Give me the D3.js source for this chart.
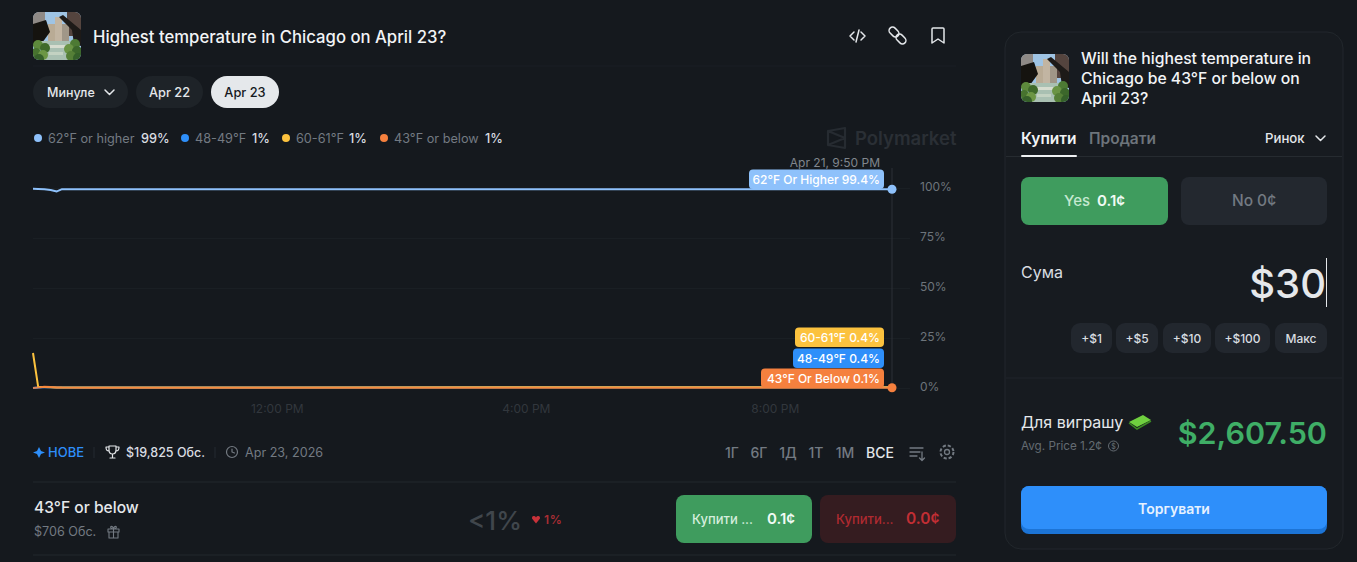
<!DOCTYPE html>
<html>
<head>
<meta charset="utf-8">
<script src="https://cdnjs.cloudflare.com/ajax/libs/d3/7.8.5/d3.min.js"></script>
<style>
html, body { margin: 0; padding: 0; background: #15191e; overflow: hidden; }
svg { display: block; }
text { font-family: Inter, "Noto Sans", sans-serif; }
</style>
</head>
<body>
<svg id="page" width="1357" height="562"></svg>
<script>
// chart data
var times = ["08:05", "08:10", "08:16", "08:22", "08:28", "08:33", "09:00", "12:00", "16:00", "20:00", "21:53"];
var higher62 = [99.6, 99.5, 99.4, 99.0, 98.3, 99.4, 99.4, 99.4, 99.4, 99.4, 99.4];
var range48 = [0, 0.3, 0.4, 0.4, 0.3, 0.2, 0.2, 0.2, 0.4, 0.4, 0.4];
var range60 = [17.5, 0.6, 0.5, 0.4, 0.3, 0.2, 0.2, 0.2, 0.4, 0.4, 0.4];
var below43 = [0, 0.2, 0.6, 0.5, 0.3, 0.2, 0.1, 0.1, 0.1, 0.1, 0.1];

var seriesNames = ["62°F or higher", "48-49°F", "60-61°F", "43°F or below"];
var tooltipNames = ["62°F Or Higher", "48-49°F", "60-61°F", "43°F Or Below"];
var seriesLast = [99.4, 0.4, 0.4, 0.1];
var legendPct = ["99%", "1%", "1%", "1%"];
var seriesColors = ["#8ec1fb", "#2e8ffa", "#fcc23e", "#f5803e"];
var allSeries = [higher62, range48, range60, below43];

var yTicks = [0, 25, 50, 75, 100];
var xTicks = ["12:00", "16:00", "20:00"];
var rangeLabels = ["1Г", "6Г", "1Д", "1Т", "1М", "ВСЕ"];
var chipLabels = ["+$1", "+$5", "+$10", "+$100", "Макс"];

var svg = d3.select("#page");
var parse = d3.timeParse("%H:%M");

function label(g, x, y, str, size, color, weight, anchor) {
  return g.append("text").attr("x", x).attr("y", y).text(str)
    .attr("font-size", size).attr("fill", color)
    .attr("font-weight", weight || 400).attr("text-anchor", anchor || "start");
}
function box(g, x0, y0, x1, y1, r, fill) {
  return g.append("rect").attr("x", x0).attr("y", y0).attr("width", x1 - x0).attr("height", y1 - y0)
    .attr("rx", r).attr("fill", fill);
}
function rule(g, x0, x1, y, color) {
  g.append("line").attr("x1", x0).attr("x2", x1).attr("y1", y).attr("y2", y).attr("stroke", color);
}
function icon(g, x, y, d, color, w) {
  g.append("path").attr("transform", "translate(" + x + "," + y + ")").attr("d", d)
    .attr("fill", "none").attr("stroke", color).attr("stroke-width", w || 1.5)
    .attr("stroke-linecap", "round").attr("stroke-linejoin", "round");
}

var defs = svg.append("defs");

// little picture of the Chicago river, drawn in a 48 box
function thumb(id, x, y) {
  defs.append("clipPath").attr("id", id).append("rect").attr("width", 48).attr("height", 48).attr("rx", 6);
  var g = svg.append("g").attr("transform", "translate(" + x + "," + y + ")").attr("clip-path", "url(#" + id + ")");
  box(g, 0, 0, 48, 48, 0, "#9fc4e4");
  box(g, 0, 0, 12, 22, 0, "#8f8a86");
  box(g, 34, 0, 48, 24, 0, "#54443e");
  box(g, 22, 5, 29, 30, 0, "#c2b5a2");
  box(g, 15, 12, 22, 30, 0, "#b9ab95");
  box(g, 29, 12, 36, 30, 0, "#a09788");
  g.append("path").attr("d", "M0 12L13 8L17 20L9 31L0 34Z").attr("fill", "#15130f");
  g.append("path").attr("d", "M26 5L30 3L48 18L48 34L41 32L39 18Z").attr("fill", "#1d1a18");
  box(g, 8, 29, 40, 48, 0, "#a9c0b2");
  box(g, 14, 33, 33, 36, 0, "#d6dccf");
  box(g, 16, 40, 30, 43, 0, "#c3d2c2");
  var leaves = [[5, 33, "#5e8a3c"], [12, 36, "#3f6a2a"], [3, 41, "#47732f"], [10, 43, "#6c9644"], [6, 47, "#36602a"],
    [42, 32, "#4d7a34"], [36, 37, "#6a9444"], [44, 39, "#3c672b"], [38, 44, "#557f37"], [45, 46, "#35602a"]];
  leaves.forEach(function (l) {
    g.append("circle").attr("cx", l[0]).attr("cy", l[1]).attr("r", 5).attr("fill", l[2]);
  });
}

// ---- header
thumb("th1", 33, 12);
label(svg, 93, 43, "Highest temperature in Chicago on April 23?", 16.7, "#f2f4f6", 500);
icon(svg, 850, 28, "M4 4L0 8L4 12M11 4L15 8L11 12M9 2L6 14", "#e4e7ea");
[[894, 32], [901, 39]].forEach(function (c) {
  svg.append("rect").attr("x", c[0] - 5.5).attr("y", c[1] - 3.5).attr("width", 11).attr("height", 7).attr("rx", 3.5)
    .attr("transform", "rotate(45 " + c[0] + " " + c[1] + ")")
    .attr("fill", "none").attr("stroke", "#e4e7ea").attr("stroke-width", 1.5);
});
icon(svg, 932, 28, "M0 1Q0 0 1 0L11 0Q12 0 12 1L12 15L6 11L0 15Z", "#e4e7ea");
rule(svg, 33, 956, 66, "#1a1f24");

// ---- pills
box(svg, 33, 76, 128, 108, 16, "#1e2328");
label(svg, 47, 97, "Минуле", 12.5, "#e4e7ea", 500);
icon(svg, 105, 90, "M0 0L4.5 4.5L9 0", "#e4e7ea");
box(svg, 136, 76, 203, 108, 16, "#1e2328");
label(svg, 169.5, 97, "Apr 22", 12.8, "#e4e7ea", 500, "middle");
box(svg, 211, 76, 279, 108, 16, "#e5e8eb");
label(svg, 245, 97, "Apr 23", 12.8, "#15191e", 500, "middle");

// ---- legend
var legendX = [38, 185, 286, 384];
var pctX = [141, 252, 349, 485];
seriesNames.forEach(function (n, i) {
  svg.append("circle").attr("cx", legendX[i]).attr("cy", 138).attr("r", 4).attr("fill", seriesColors[i]);
  label(svg, legendX[i] + 10, 142.5, n, 12.7, "#737a82");
  label(svg, pctX[i], 142.5, legendPct[i], 12.7, "#d9dde1", 500);
});

// ---- watermark
icon(svg, 827, 128, "M1 3L18 0L18 20L1 17ZM1 3L18 10L1 17", "#262b31", 2.2);
label(svg, 855, 145, "Polymarket", 18.5, "#2a2f35", 600);

// ---- chart
var x = d3.scaleTime().domain([parse(times[0]), parse(times[times.length - 1])]).range([33, 892]);
var y = d3.scaleLinear().domain([0, 100]).range([388, 188]);

var gridAxis = d3.axisRight(y).tickValues(yTicks).tickSize(-877).tickPadding(10)
  .tickFormat(function (d) { return d + "%"; });
var gY = svg.append("g").attr("transform", "translate(910,0)").call(gridAxis);
gY.select(".domain").remove();
gY.selectAll("line").attr("stroke", "#1a1f24");
gY.selectAll("text").attr("font-size", 12).attr("fill", "#6d747b").attr("font-family", "Inter").attr("dy", "0.2em");

var timeAxis = d3.axisBottom(x).tickValues(xTicks.map(parse)).tickSize(0).tickPadding(0)
  .tickFormat(d3.timeFormat("%-I:%M %p"));
var gX = svg.append("g").attr("transform", "translate(0,404)").call(timeAxis);
gX.select(".domain").remove();
gX.selectAll("text").attr("font-size", 12).attr("fill", "#32373d").attr("font-family", "Inter");

// crosshair
svg.append("line").attr("x1", x.range()[1]).attr("x2", x.range()[1]).attr("y1", 168).attr("y2", y(0))
  .attr("stroke", "#2c3137");

var line = d3.line()
  .x(function (d, i) { return x(parse(times[i])); })
  .y(function (d) { return y(d); });

allSeries.forEach(function (values, i) {
  svg.append("path").datum(values).attr("d", line).attr("fill", "none")
    .attr("stroke", seriesColors[i]).attr("stroke-width", 2).attr("stroke-linejoin", "round")
    .attr("stroke-opacity", i === 3 ? 0.85 : 1);
});

// end markers
[0, 3].forEach(function (i) {
  svg.append("circle").attr("cx", x.range()[1]).attr("cy", y(seriesLast[i])).attr("r", 4.5).attr("fill", seriesColors[i]);
});

// tooltips at the line end, stacked from the bottom
label(svg, 880, 167, "Apr 21, 9:50 PM", 12, "#80868d", 400, "end");
var tipBottom = [189, 368, 347, 388];
var tipLeft = [749, 793, 795, 761];
tooltipNames.forEach(function (n, i) {
  box(svg, tipLeft[i], tipBottom[i] - 19.5, 884, tipBottom[i], 4, seriesColors[i]);
  label(svg, 880, tipBottom[i] - 5.5, n + " " + seriesLast[i] + "%", 12, "#ffffff", 500, "end");
});

// ---- strip below chart
svg.append("path").attr("d", "M39 447L41 451L45 452.5L41 454L39 458L37 454L33 452.5L37 451Z").attr("fill", "#2e8ffa");
label(svg, 48, 457, "НОВЕ", 13, "#2e8ffa", 500);
svg.append("line").attr("x1", 94).attr("x2", 94).attr("y1", 447).attr("y2", 458).attr("stroke", "#252a30");
icon(svg, 106, 446, "M3 0H10V4C10 7 8 8 6.5 8C5 8 3 7 3 4ZM3 1H0C0 4 1 5 3 5M10 1H13C13 4 12 5 10 5M6.5 8V11M4 12H9", "#e4e7ea", 1.2);
label(svg, 126, 457, "$19,825 Обс.", 12.5, "#d9dde1", 500);
svg.append("line").attr("x1", 215).attr("x2", 215).attr("y1", 447).attr("y2", 458).attr("stroke", "#252a30");
svg.append("circle").attr("cx", 232).attr("cy", 452).attr("r", 5.5).attr("fill", "none").attr("stroke", "#737a82").attr("stroke-width", 1.2);
icon(svg, 232, 449, "M0 0V3L2.5 4", "#737a82", 1.2);
label(svg, 245, 457, "Apr 23, 2026", 12.6, "#737a82", 400);

var rangeX = [732, 759, 788, 816, 845, 880];
rangeLabels.forEach(function (r, i) {
  var on = r === "ВСЕ";
  label(svg, rangeX[i], 457.5, r, 14, on ? "#e4e7ea" : "#737a82", 500, "middle");
});
icon(svg, 910, 447, "M0 1H13M0 5H10M0 9H7M12 5V13M9.5 11L12 13.5L14.5 11", "#737a82", 1.3);
svg.append("circle").attr("cx", 947).attr("cy", 452).attr("r", 2.5).attr("fill", "none").attr("stroke", "#737a82").attr("stroke-width", 1.3);
svg.append("circle").attr("cx", 947).attr("cy", 452).attr("r", 6.5).attr("fill", "none").attr("stroke", "#737a82").attr("stroke-width", 2).attr("stroke-dasharray", "3.2 1.9");

rule(svg, 33, 956, 482, "#23282d");
rule(svg, 33, 956, 555, "#23282d");

// ---- outcome row
label(svg, 34, 513, "43°F or below", 15.6, "#e5e8eb", 500);
label(svg, 34, 536, "$706 Обс.", 12.6, "#737a82", 400);
icon(svg, 107, 526, "M1 3H12V6H1ZM2 6V12H11V6M6.5 3V12M6.5 3C4 3 3 1 4 0.5C5 0 6.5 1.5 6.5 3C6.5 1.5 8 0 9 0.5C10 1 9 3 6.5 3", "#737a82", 1.1);
label(svg, 468, 530, "<1%", 26, "#40464c", 500);
svg.append("path").attr("d", "M532 518.5A2 2 0 0 1 536 517.5A2 2 0 0 1 540 518.5L536 523.5Z").attr("fill", "#c8323a");
label(svg, 544, 524, "1%", 12, "#a82d34", 600).attr("letter-spacing", 0.8);

box(svg, 676, 495, 812, 543, 8, "#3f9c5e");
label(svg, 692, 524, "Купити ...", 13, "#d5eedd", 500);
label(svg, 767, 524, "0.1¢", 15, "#f0faf3", 600);
box(svg, 820, 495, 956, 543, 8, "#351c20");
label(svg, 836, 524, "Купити...", 13, "#b02a30", 500);
label(svg, 906, 524, "0.0¢", 15.5, "#c22e34", 600);

// ---- trade panel
svg.append("rect").attr("x", 1005).attr("y", 32).attr("width", 338).attr("height", 517).attr("rx", 16)
  .attr("fill", "#171b20").attr("stroke", "#22272c");
thumb("th2", 1021, 54);
label(svg, 1081, 64, "Will the highest temperature in", 15.75, "#f2f4f6", 500);
label(svg, 1081, 84, "Chicago be 43°F or below on", 15.75, "#f2f4f6", 500);
label(svg, 1081, 104, "April 23?", 15.75, "#f2f4f6", 500);

label(svg, 1021, 144, "Купити", 15.5, "#f2f4f6", 600);
label(svg, 1089, 144, "Продати", 15.5, "#6d747b", 600);
label(svg, 1265, 143, "Ринок", 13.2, "#e4e7ea", 500);
icon(svg, 1316, 136, "M0 0L4.5 4.5L9 0", "#e4e7ea");
rule(svg, 1006, 1342, 156.5, "#262b30");
box(svg, 1021, 155, 1077, 157, 1, "#eef0f2");

box(svg, 1021, 177, 1168, 225, 8, "#3f9c5e");
label(svg, 1064, 206, "Yes", 15, "#c5e8d1", 500);
label(svg, 1097, 206, "0.1¢", 15, "#f0faf3", 600);
box(svg, 1181, 177, 1327, 225, 8, "#23282f");
label(svg, 1254, 206, "No 0¢", 15.5, "#737a82", 500, "middle");

label(svg, 1021, 278, "Сума", 16, "#d9dde1", 400);
label(svg, 1326, 298, "$30", 40, "#e5e8eb", 500, "end");
svg.append("line").attr("x1", 1326.5).attr("x2", 1326.5).attr("y1", 258).attr("y2", 307).attr("stroke", "#e5e8eb");

var chipX0 = [1071, 1116, 1163, 1215, 1275];
var chipX1 = [1112, 1158, 1211, 1270, 1327];
chipLabels.forEach(function (c, i) {
  box(svg, chipX0[i], 323, chipX1[i], 353, 9, "#22272e");
  label(svg, (chipX0[i] + chipX1[i]) / 2, 342.5, c, 12, "#d9dde1", 500, "middle");
});
rule(svg, 1006, 1342, 378, "#20252a");

label(svg, 1021, 428, "Для виграшу", 16, "#e5e8eb", 400);
svg.append("path").attr("d", "M1129 422L1143 415L1151 420L1137 427Z").attr("fill", "#6fcf3f");
svg.append("path").attr("d", "M1129 423L1137 429L1151 421").attr("fill", "none").attr("stroke", "#3c8a22").attr("stroke-width", 1.5);
label(svg, 1021, 450, "Avg. Price 1.2¢", 11.7, "#646b72", 400);
svg.append("circle").attr("cx", 1113.5).attr("cy", 446).attr("r", 5).attr("fill", "none").attr("stroke", "#646b72");
label(svg, 1113.5, 449, "$", 7, "#646b72", 500, "middle");
label(svg, 1327, 444, "$2,607.50", 30.5, "#3fae66", 600, "end");

box(svg, 1021, 486, 1327, 534, 8, "#1c74d6");
box(svg, 1021, 486, 1327, 529, 8, "#2e8ffa");
label(svg, 1174, 514, "Торгувати", 14, "#e6f2ff", 600, "middle");
</script>
</body>
</html>
